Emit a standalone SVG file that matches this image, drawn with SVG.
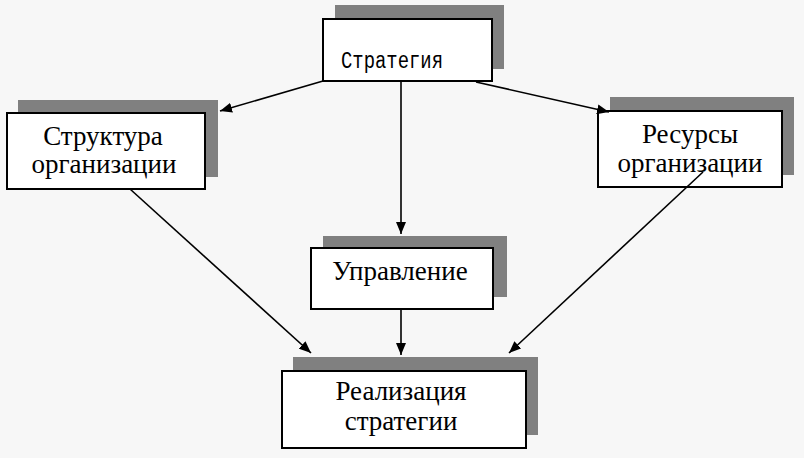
<svg xmlns="http://www.w3.org/2000/svg" width="804" height="458" viewBox="0 0 804 458">
<style>
.sh{fill:#808080}
.bx{fill:#ffffff;stroke:#000000;stroke-width:2}
.t{font-family:"Liberation Serif","Times New Roman",serif;font-size:27px;fill:#000000;text-anchor:middle}
.m{font-family:"Liberation Mono","Courier New",monospace;font-size:23px;fill:#000000}
.c{stroke:#000000;stroke-width:1.6;fill:none;marker-end:url(#ah)}
</style>
<defs>
<marker id="ah" viewBox="0 0 12 10" refX="12" refY="5" markerWidth="12" markerHeight="10" markerUnits="userSpaceOnUse" orient="auto">
<path d="M0,0 L12,5 L0,10 Z" fill="#000000"/>
</marker>
</defs>
<rect width="804" height="458" fill="#f7f7f7"/>
<g id="strategy">
<rect class="sh" x="335" y="5" width="169" height="64"/>
<rect class="bx" x="323" y="19" width="169" height="62"/>
<text class="m" x="341" y="68" textLength="102" lengthAdjust="spacingAndGlyphs">Стратегия</text>
</g>
<g id="structure">
<rect class="sh" x="18" y="100" width="200" height="77"/>
<rect class="bx" x="7" y="113" width="198" height="76"/>
<text class="t" x="103" y="145">Структура</text>
<text class="t" x="104" y="173">организации</text>
</g>
<g id="resources">
<rect class="sh" x="610" y="97" width="184" height="78"/>
<rect class="bx" x="598" y="111" width="184" height="76"/>
<text class="t" x="690" y="143">Ресурсы</text>
<text class="t" x="690" y="172">организации</text>
</g>
<g id="management">
<rect class="sh" x="323" y="236" width="184" height="61"/>
<rect class="bx" x="311" y="248" width="182" height="61"/>
<text class="t" x="400" y="280">Управление</text>
</g>
<g id="implementation">
<rect class="sh" x="293" y="357" width="245" height="78"/>
<rect class="bx" x="282" y="371" width="244" height="77"/>
<text class="t" x="401" y="400">Реализация</text>
<text class="t" x="401" y="430">стратегии</text>
</g>
<g id="connectors">
<line class="c" x1="323" y1="81" x2="220" y2="111"/>
<line class="c" x1="476" y1="82" x2="609" y2="112"/>
<line class="c" x1="401" y1="81" x2="401" y2="234"/>
<line class="c" x1="130" y1="189" x2="311" y2="353"/>
<line class="c" x1="401" y1="309" x2="401" y2="355"/>
<line class="c" x1="703" y1="172" x2="509" y2="353"/>
</g>
</svg>
